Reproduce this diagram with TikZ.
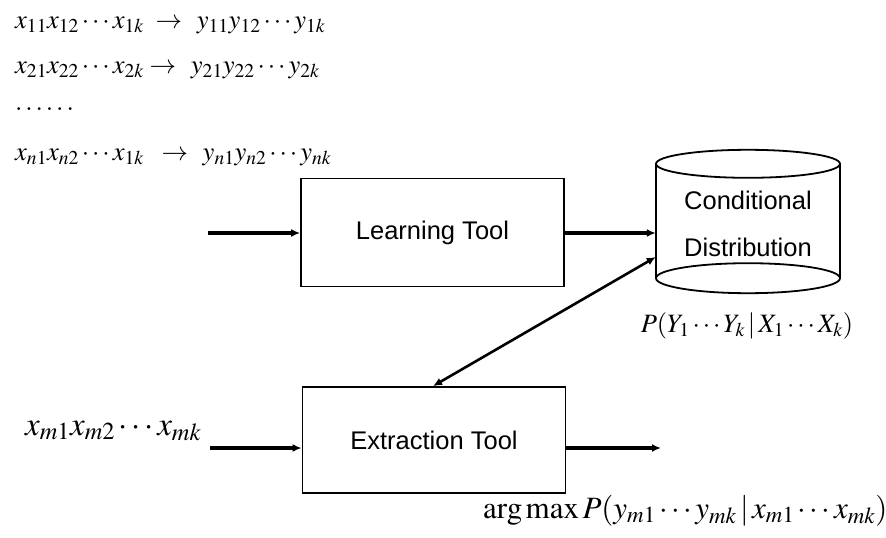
\documentclass[tikz,border=0pt]{standalone}
\usepackage{mathptmx}
\usepackage[no-math]{fontspec}
\newfontfamily\arialf{Liberation Sans}
\usetikzlibrary{arrows.meta}
\tikzset{
  toolbox/.style={draw, line width=1.8pt, minimum width=263pt, minimum height=108pt, inner sep=0pt,
    font=\arialf\fontsize{25.5}{30}\selectfont},
  flow/.style={line width=3.2pt, -{Latex[length=9pt,width=8pt]}},
  link/.style={line width=2.6pt, {Latex[length=9pt,width=8pt]}-{Latex[length=9pt,width=8pt]}},
  mathlbl/.style={inner sep=0pt, font=\fontsize{26.5}{30}\selectfont},
  biglbl/.style={inner sep=0pt, font=\fontsize{33}{38}\selectfont},
  arglbl/.style={inner sep=0pt, font=\fontsize{31}{36}\selectfont},
  cylbody/.style={line width=1.8pt},
}
\begin{document}
\begin{tikzpicture}[x=1pt,y=-1pt]
\useasboundingbox (0,0) rectangle (886,538);
% training examples
\node[mathlbl, anchor=base west] (ex1) at (15,28) {$x_{11}x_{12}\cdots x_{1k}\;\rightarrow\;\, y_{11}y_{12}\cdots y_{1k}$};
\node[mathlbl, anchor=base west] (ex2) at (15,73) {$x_{21}x_{22}\cdots x_{2k}\rightarrow\;\, y_{21}y_{22}\cdots y_{2k}$};
\node[mathlbl, anchor=base west] (exd) at (15,110) {$.\,.\,.\,.\,.\,.$};
\node[mathlbl, anchor=base west] (exn) at (15,160) {$x_{n1}x_{n2}\cdots x_{1k}\;\;\rightarrow\;\, y_{n1}y_{n2}\cdots y_{nk}$};
% boxes
\node[toolbox] (learn) at (432.5,232.5) {Learning Tool};
\node[toolbox, minimum height=106pt] (extract) at (434,440) {Extraction Tool};
% cylinder
\node[inner sep=0pt, minimum width=184pt, minimum height=114pt] (cyl) at (748,221) {};
\draw[cylbody] (cyl.north) ellipse [x radius=92pt, y radius=14pt];
\draw[cylbody] (cyl.south) ellipse [x radius=92pt, y radius=15pt];
\draw[cylbody] (cyl.north west) -- (cyl.south west);
\draw[cylbody] (cyl.north east) -- (cyl.south east);
\node[inner sep=0pt, align=center, font=\arialf\fontsize{25.5}{47}\selectfont] (cyltxt)
      at ([yshift=-3pt]cyl.center) {Conditional\\Distribution};
\node[mathlbl, anchor=base] (plbl) at (747,332) {$P(Y_1\cdots Y_k\,|\,X_1\cdots X_k)$};
% input / output
\coordinate (lin) at (208,233);
\coordinate (xin) at (210,448);
\coordinate (xout) at (661,448);
\node[biglbl, anchor=base west] (xm) at (25,435) {$x_{m1}x_{m2}\cdots x_{mk}$};
\node[arglbl, anchor=base west] (amax) at (483,518) {$\arg\max P(y_{m1}\cdots y_{mk}\,|\,x_{m1}\cdots x_{mk})$};
% connectors
\draw[flow] (lin) -- (learn.west |- lin);
\draw[flow] (learn.east |- lin) -- (cyl.west |- lin);
\draw[flow] (xin) -- (extract.west |- xin);
\draw[flow] (extract.east |- xout) -- (xout);
\coordinate (etop) at ([xshift=-1pt]extract.north);
\coordinate (cin) at ([yshift=-36pt]cyl.west);
\draw[link] (etop) -- (cin);
\end{tikzpicture}
\end{document}
